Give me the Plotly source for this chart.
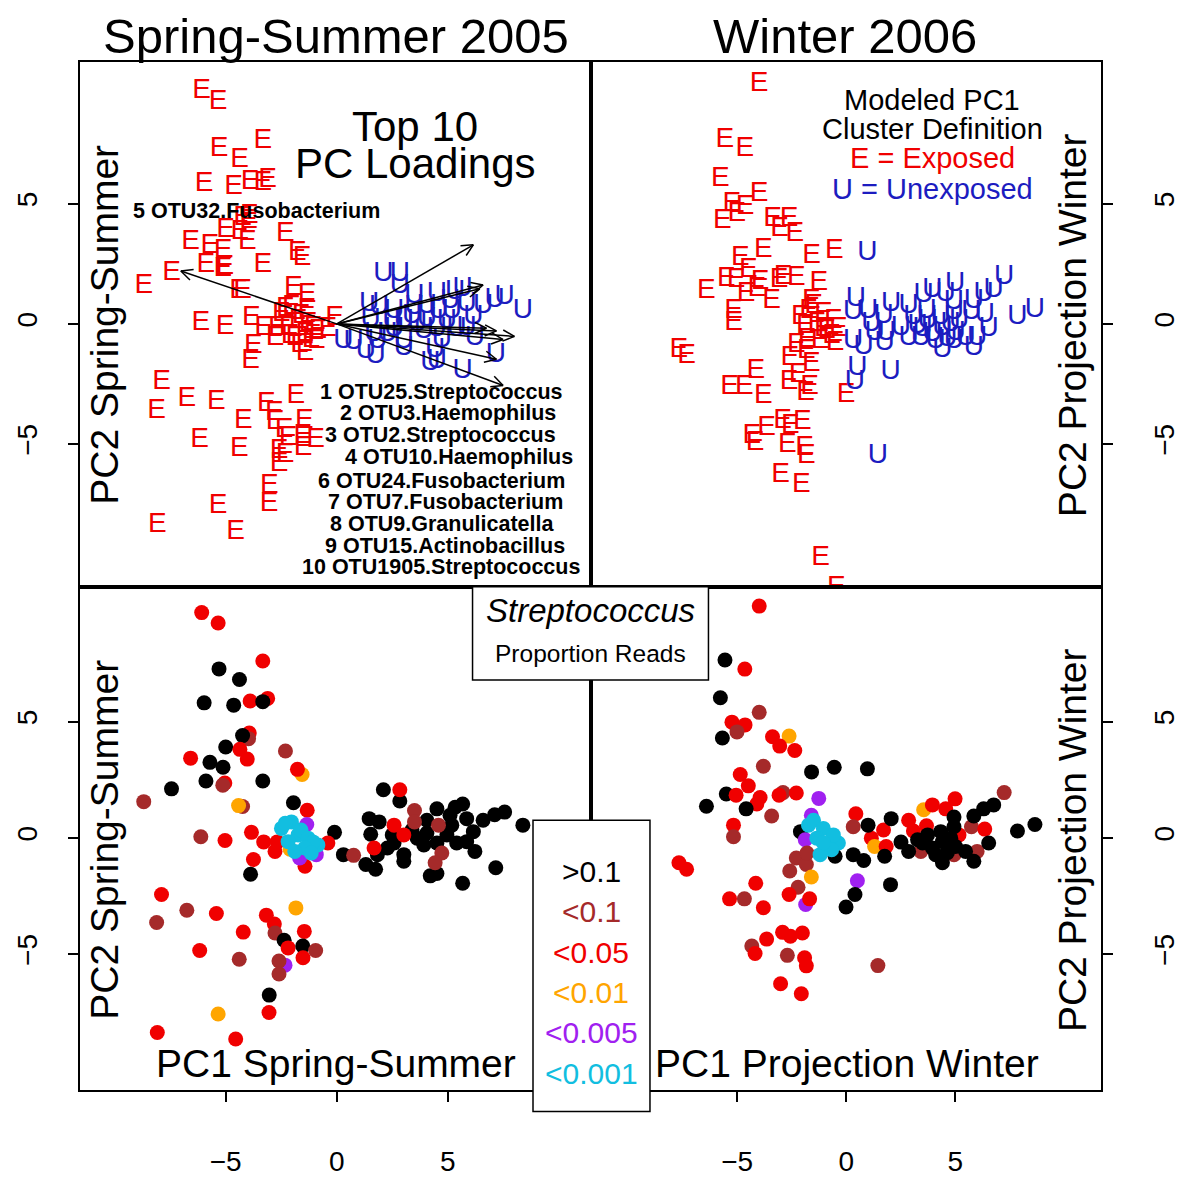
import math
import plotly.graph_objects as go

# ---------------- data ----------------
prop_classes = [">0.1", "<0.1", "<0.05", "<0.01", "<0.005", "<0.001"]
prop_colors = ["#000000", "#A52A2A", "#F00000", "#FFA500", "#A020F0", "#12BEE0"]
cluster_colors = {"E": "#F00000", "U": "#1C1CC0"}

# Spring-Summer 2005 (PC1, PC2 of the spring-summer model)
ss_exp_pc1 = [-6.08, -5.34, -3.33, -5.30, -4.38, -5.97, -4.64, -3.90, -3.11, -3.33,
              -3.94, -3.97, -4.24, -5.00, -4.36, -4.03, -2.31, -6.58, -5.71, -5.12,
              -1.56, -1.77, -5.89, -5.04, -5.13, -3.33, -7.44, -8.69, -4.24, -4.42,
              -1.95, -1.33, -1.35, -0.10, -6.12, -5.03, -3.84, -3.29, -2.68, -2.78,
              -0.40, -1.43, -3.75, -3.88, -2.10, -1.67, -0.92, -7.89, -6.75, -8.11,
              -5.42, -3.17, -1.84, -2.81, -2.78, -4.21, -1.46, -2.37, -2.19, -1.53,
              -0.95, -1.52, -6.17, -4.39, -2.33, -2.60, -2.60, -3.04, -3.05, -5.34,
              -8.08, -4.55,
              -2.04, -2.49, -2.32, -1.74, -1.61, -1.29, -0.85, -1.07, -1.44, -2.19,
              -1.89, -1.15]
ss_exp_pc2 = [9.69, 9.24, 7.61, 7.27, 6.81, 5.81, 5.71, 5.89, 6.00, 5.86,
              4.51, 4.27, 4.40, 3.91, 3.81, 3.39, 3.74, 3.43, 3.25, 3.04,
              2.73, 2.95, 2.45, 2.36, 2.27, 2.45, 2.11, 1.56, 1.35, 1.39,
              1.51, 1.19, 0.58, 0.24, 0.05, -0.11, 0.24, -0.17, -0.17, -0.58,
              -0.22, -1.22, -0.93, -1.56, -0.49, -0.86, -0.72, -2.43, -3.11, -3.64,
              -3.25, -3.32, -3.01, -3.70, -4.09, -4.05, -4.02, -4.40, -4.73, -4.65,
              -4.84, -5.15, -4.84, -5.22, -5.47, -5.29, -5.85, -6.76, -7.51, -7.57,
              -8.37, -8.65,
              0.69, 0.41, 0.63, 0.13, 0.34, -0.01, -0.30, -0.17, -0.43, -0.16,
              -0.58, -0.65]
ss_exp_cls = [2, 2, 2, 0, 0, 0, 0, 2, 2, 0,
              2, 1, 0, 0, 2, 2, 1, 2, 0, 0,
              3, 2, 0, 2, 1, 0, 0, 1, 1, 3,
              0, 2, 4, 0, 1, 2, 2, 2, 2, 2,
              2, 2, 2, 0, 3, 4, 4, 2, 1, 1,
              2, 2, 3, 2, 1, 2, 2, 0, 2, 0,
              1, 2, 2, 1, 4, 1, 1, 0, 2, 3,
              2, 2,
              5, 5, 5, 5, 5, 5, 5, 5, 5, 5,
              5, 5]

ss_unexp_pc1 = [2.10, 2.84, 1.46, 1.91, 4.51, 5.33, 5.67, 4.06, 5.10, 5.85,
                6.59, 7.11, 7.56, 8.38, 1.53, 3.62, 6.15, 4.96, 4.51, 2.58,
                2.28, 3.02, 3.92, 5.40, 5.85, 6.22, 0.30, 1.31, 1.75, 1.83,
                4.21, 4.51, 7.16, 5.67, 3.02, 3.39, 5.18, 4.06, 2.50,
                2.84, 3.50, 3.50, 2.58, 4.58, 3.02, 1.68, 4.73, 4.43, 0.76]
ss_unexp_pc2 = [2.07, 1.59, 0.83, 0.69, 1.25, 1.32, 1.46, 0.76, 0.97, 0.83,
                0.76, 1.00, 1.11, 0.55, 0.16, -0.01, 0.27, 0.13, -0.22, -0.22,
                -0.43, -0.72, -0.30, -0.22, -0.16, -0.58, -0.72, -1.14, -1.35, -0.72,
                -1.63, -1.53, -1.28, -1.95, -1.00, 0.34, 0.55, 0.21, 0.13,
                2.07, 1.18, 0.69, 0.55, 0.55, 0.13, -0.43, -0.65, -1.07, -0.75]
ss_unexp_cls = [0] * 39 + [2, 1, 1, 2, 1, 2, 2, 1, 1, 1]

# Winter 2006 (projection on the spring-summer PCs); None = no proportion dot
w_exp_pc1 = [-3.99, -5.56, -4.65, -5.77, -3.99, -5.24, -4.64, -5.01, -5.68, -3.38,
             -2.62, -3.05, -2.36, -3.80, -1.59, -0.55, -4.86, -4.49, -5.50, -5.05,
             -3.95, -4.10, -2.90, -2.29, -3.08, -1.26, -6.41, -4.59, -3.42, -1.60,
             -5.17, -5.17, -2.10, -7.67, -7.32, -4.15, -5.35, -4.67, -3.80, -2.59,
             -2.29, -1.83, -1.60, -2.21, -2.62, -1.86, -1.68, -0.01, -2.92, -2.56,
             -2.01, -3.65, -4.33, -4.18, -2.70, -1.91, -1.83, -3.01, -2.06, -1.18,
             -0.45, -0.51, -1.88, -1.80,
             -1.73, -1.50, -1.05, -1.35, -0.90, -0.36, -0.59, -0.67, -1.20, -1.05]
w_exp_pc2 = [9.97, 7.65, 7.26, 6.03, 5.40, 4.98, 4.86, 4.56, 4.30, 4.35,
             4.38, 3.95, 3.76, 3.08, 2.84, 3.04, 2.73, 2.24, 1.89, 1.84,
             1.74, 1.46, 1.95, 1.93, 1.84, 1.70, 1.36, 1.25, 0.94, 0.97,
             0.55, 0.05, 0.27, -1.07, -1.35, -1.95, -2.62, -2.62, -3.00, -1.42,
             -0.86, -1.14, -1.68, -2.12, -2.43, -2.86, -2.62, -2.97, -4.06, -4.23,
             -4.09, -4.35, -4.65, -4.97, -5.05, -5.15, -5.50, -6.27, -6.70, -9.76,
             -11.0, -0.79, -0.08, -0.65,
             0.55, 0.76, 0.41, -0.01, -0.30, -0.22, 0.13, -0.51, -0.72, -0.21]
w_exp_cls = [2, 0, 2, 0, 1, 2, 2, 1, 0, 2,
             3, 2, 2, 1, 0, 0, 2, 2, 0, 2,
             2, 2, 1, 2, 2, 4, 0, 0, 1, 4,
             2, 1, 0, 2, 2, 2, 2, 1, 2, 1,
             1, 1, 3, 1, 2, 4, 2, 0, 2, 2,
             2, 2, 1, 2, 1, 2, 2, 2, 2, None,
             None, 0, 4, 1,
             5, 5, 5, 5, 5, 5, 5, 5, 5, 5]

w_unexp_pc1 = [0.44, 0.32, 1.71, 1.15, 1.30, 1.83, 0.51, 3.55, 3.95, 4.56,
               4.99, 2.86, 3.68, 3.08, 3.42, 5.17, 4.94, 6.00, 5.74, 6.35,
               7.24, 1.45,
               0.97, 1.00, 2.06, 1.76, 0.32, 0.80, 0.40, 2.03, 2.51, 2.86,
               3.50, 3.95, 4.33, 4.41, 4.94, 4.94, 4.79, 5.01, 5.47, 4.41,
               4.10, 5.85, 6.53, 5.85, 6.30, 6.76, 7.85, 8.65, 3.73, 3.27,
               4.64]
w_unexp_pc2 = [1.04, 0.48, 0.34, -0.01, -0.37, -0.37, -1.84, 1.21, 1.42, 1.25,
               1.68, 0.76, 0.52, 0.30, -0.58, 0.13, -0.72, -0.58, 0.48, 0.38,
               1.95, -5.49,
               2.97, 0.55, 0.83, -0.79, -0.72, -0.97, -2.43, -2.01, -0.18, -0.58,
               -0.22, -0.43, 0.27, -0.16, 0.90, 0.48, -0.01, -0.37, -0.58, -1.07,
               -0.72, -1.00, -0.22, 0.94, 1.25, 1.42, 0.30, 0.58, 0.13, -0.08,
               -0.63]
w_unexp_cls = [2, 1, 2, 2, 3, 2, 4, 3, 2, 2,
               2, 2, 2, 2, 1, 2, 1, 1, 1, 2,
               1, 1] + [0] * 31

# Top 10 PC loadings (arrow tips in PC units)
loading_rank = [1, 2, 3, 4, 5, 6, 7, 8, 9, 10]
loading_names = ["OTU25.Streptococcus", "OTU3.Haemophilus", "OTU2.Streptococcus",
                 "OTU10.Haemophilus", "OTU32.Fusobacterium", "OTU24.Fusobacterium",
                 "OTU7.Fusobacterium", "OTU9.Granulicatella", "OTU15.Actinobacillus",
                 "OTU1905.Streptococcus"]
loading_pc1 = [7.49, 8.00, 7.19, 7.49, -7.02, 6.15, 6.59, 7.19, 6.44, 6.74]
loading_pc2 = [-2.56, -0.52, -1.47, -0.65, 2.20, 3.29, 1.62, -0.29, 1.46, -0.18]

for a, b, c in [(ss_exp_pc1, ss_exp_pc2, ss_exp_cls), (ss_unexp_pc1, ss_unexp_pc2, ss_unexp_cls),
                (w_exp_pc1, w_exp_pc2, w_exp_cls), (w_unexp_pc1, w_unexp_pc2, w_unexp_cls)]:
    assert len(a) == len(b) == len(c), (len(a), len(b), len(c))

# ---------------- layout geometry ----------------
W, H = 1192, 1189
L, R, T, B = 80, 1110, 62, 1110          # plotting region (pixels)
MID_X, MID_Y = 596, 597
FONT = "Liberation Sans, Arial, Helvetica, sans-serif"

def px(x):
    return (x - L) / (R - L)

def py(y):
    return (B - y) / (B - T)

XR_LEFT = [-11.56, 11.47]
XR_RIGHT = [-11.68, 11.68]
YR_TOP = [-10.94, 10.90]
YR_BOT = [-10.84, 10.80]

fig = go.Figure()

def letters(pc1, n_exp):
    return ["E"] * n_exp + ["U"] * (len(pc1) - n_exp)

# ---- top-left: cluster letters ----
ss_x = ss_exp_pc1 + ss_unexp_pc1
ss_y = ss_exp_pc2 + ss_unexp_pc2
ss_c = ss_exp_cls + ss_unexp_cls
ss_lab = letters(ss_x, len(ss_exp_pc1))
fig.add_trace(go.Scatter(x=ss_x, y=ss_y, mode="text", text=ss_lab,
                         textfont=dict(family=FONT, size=28,
                                       color=[cluster_colors[c] for c in ss_lab]),
                         textposition="middle center", hoverinfo="skip",
                         xaxis="x", yaxis="y", showlegend=False))

# ---- top-left: loading arrows ----
sx = (MID_X - L) / (XR_LEFT[1] - XR_LEFT[0])
sy = (MID_Y - T) / (YR_TOP[1] - YR_TOP[0])
head_px = 13
ang = math.radians(26)
ax_, ay_ = [], []
for tx, ty in zip(loading_pc1, loading_pc2):
    ax_ += [0, tx, None]
    ay_ += [0, ty, None]
    vx, vy = tx * sx, ty * sy
    n = math.hypot(vx, vy)
    ux, uy = -vx / n, -vy / n
    for s in (1, -1):
        c, si = math.cos(s * ang), math.sin(s * ang)
        rx, ry = ux * c - uy * si, ux * si + uy * c
        ax_ += [tx, tx + head_px * rx / sx, None]
        ay_ += [ty, ty + head_px * ry / sy, None]
fig.add_trace(go.Scatter(x=ax_, y=ay_, mode="lines",
                         line=dict(color="black", width=1.5),
                         hoverinfo="skip", xaxis="x", yaxis="y", showlegend=False))

# ---- top-right: cluster letters ----
w_x = w_exp_pc1 + w_unexp_pc1
w_y = w_exp_pc2 + w_unexp_pc2
w_c = w_exp_cls + w_unexp_cls
w_lab = letters(w_x, len(w_exp_pc1))
fig.add_trace(go.Scatter(x=w_x, y=w_y, mode="text", text=w_lab,
                         textfont=dict(family=FONT, size=28,
                                       color=[cluster_colors[c] for c in w_lab]),
                         textposition="middle center", hoverinfo="skip",
                         xaxis="x2", yaxis="y2", showlegend=False))

# ---- bottom panels: Streptococcus proportion dots ----
def dots(xs, ys, cs, xa, ya):
    keep = [i for i, c in enumerate(cs) if c is not None]
    return go.Scatter(x=[xs[i] for i in keep], y=[ys[i] for i in keep], mode="markers",
                      marker=dict(size=15, color=[prop_colors[cs[i]] for i in keep],
                                  line=dict(width=0)),
                      hoverinfo="skip", xaxis=xa, yaxis=ya, showlegend=False)

fig.add_trace(dots(ss_x, ss_y, ss_c, "x3", "y3"))
fig.add_trace(dots(w_x, w_y, w_c, "x4", "y4"))

# ---------------- axes ----------------
box = dict(showline=True, linecolor="black", linewidth=1.5, mirror=True,
           showgrid=False, zeroline=False)
tickfont = dict(family=FONT, size=28, color="black")
xl = [0, px(MID_X)]
xr = [px(MID_X), 1]
yt = [py(MID_Y), 1]
yb = [0, py(MID_Y)]

xticks = dict(ticks="outside", ticklen=10, tickwidth=1.5, tickcolor="black",
              tickvals=[-5, 0, 5], tickfont=tickfont, ticklabelstandoff=36)
yticks = dict(ticks="outside", ticklen=10, tickwidth=1.5, tickcolor="black",
              tickvals=[-5, 0, 5], tickfont=tickfont, tickangle=-90)

fig.update_layout(
    xaxis=dict(domain=xl, range=XR_LEFT, anchor="y", showticklabels=False, ticks="", **box),
    xaxis2=dict(domain=xr, range=XR_RIGHT, anchor="y2", showticklabels=False, ticks="", **box),
    xaxis3=dict(domain=xl, range=XR_LEFT, anchor="y3", **xticks, **box),
    xaxis4=dict(domain=xr, range=XR_RIGHT, anchor="y4", **xticks, **box),
    yaxis=dict(domain=yt, range=YR_TOP, anchor="x", side="left", ticklabelstandoff=20, **yticks, **box),
    yaxis2=dict(domain=yt, range=YR_TOP, anchor="x2", side="right", ticklabelstandoff=28, **yticks, **box),
    yaxis3=dict(domain=yb, range=YR_BOT, anchor="x3", side="left", ticklabelstandoff=20, **yticks, **box),
    yaxis4=dict(domain=yb, range=YR_BOT, anchor="x4", side="right", ticklabelstandoff=28, **yticks, **box),
)

# ---------------- text annotations ----------------
ann = []

def text(x, y, s, size, color="black", angle=0):
    ann.append(dict(x=px(x), y=py(y), xref="paper", yref="paper", text=s,
                    showarrow=False, xanchor="center", yanchor="middle",
                    textangle=angle, font=dict(family=FONT, size=size, color=color)))

text(338, 35, "Spring-Summer 2005", 49)
text(852, 35, "Winter 2006", 49)
text(418, 128, "Top 10", 42)
text(418, 165, "PC Loadings", 42)
text(940, 101, "Modeled PC1", 29)
text(940, 130, "Cluster Definition", 29)
text(940, 160, "E = Exposed", 29, cluster_colors["E"])
text(940, 191, "U = Unexposed", 29, cluster_colors["U"])
for yc in (330, 855):
    text(105, yc, "PC2 Spring-Summer", 39, angle=-90)
    text(1082, yc, "PC2 Projection Winter", 39, angle=-90)
text(338, 1083, "PC1 Spring-Summer", 39)
text(854, 1083, "PC1 Projection Winter", 39)

# loading labels
loading_label_pos = [(445, 398), (451, 420), (444, 442), (462, 465), (258, 214),
                     (445, 489), (449, 511), (445, 533), (448, 555), (444, 577)]
for rank, name, (lx, ly) in zip(loading_rank, loading_names, loading_label_pos):
    text(lx, ly, f"<b>{rank} {name}</b>", 21.5)

# Streptococcus box + legend box
text(595, 621, "<i>Streptococcus</i>", 33)
text(595, 665, "Proportion Reads", 24.5)
legend_y = [887, 928, 970, 1011, 1051, 1093]
for lab, col, ly in zip(prop_classes, prop_colors, legend_y):
    text(596, ly, lab.replace("<", "&lt;").replace(">", "&gt;"), 30, col)

shapes = [
    dict(type="rect", xref="paper", yref="paper", x0=px(476), x1=px(714), y0=py(692), y1=py(597),
         fillcolor="white", line=dict(color="black", width=1.5), layer="above"),
    dict(type="rect", xref="paper", yref="paper", x0=px(537), x1=px(655), y0=py(1132), y1=py(835),
         fillcolor="white", line=dict(color="black", width=1.5), layer="above"),
]

fig.update_layout(
    width=W, height=H, autosize=False,
    margin=dict(l=L, r=W - R, t=T, b=H - B, pad=0),
    paper_bgcolor="white", plot_bgcolor="white",
    annotations=ann, shapes=shapes, showlegend=False,
    font=dict(family=FONT, color="black"),
)

# keep the page exactly the size of the figure (no stray line box / scrollbars)
page_fit = """
var d=document.documentElement, b=document.body;
b.style.margin='0px'; b.style.fontSize='0px'; b.style.lineHeight='0px';
d.style.overflow='hidden'; b.style.overflow='hidden';
"""
fig.write_html("out.html", post_script=page_fit)
